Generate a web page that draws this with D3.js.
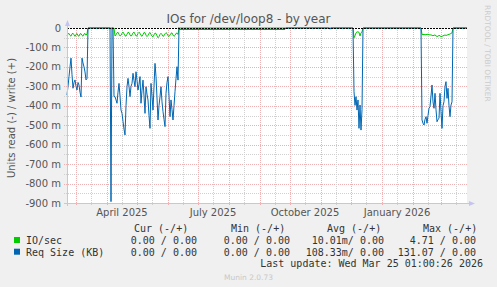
<!DOCTYPE html>
<html>
<head>
<meta charset="utf-8">
<script src="https://cdn.jsdelivr.net/npm/d3@7"></script>
<style>
  html, body { margin: 0; padding: 0; background: #f0f0f0; }
  svg { display: block; }
  text { font-family: "DejaVu Sans", sans-serif; }
  .mono { font-family: "DejaVu Sans Mono", monospace; font-size: 10px; fill: #333; }
</style>
</head>
<body>
<div id="chart"></div>
<script>
// values in milli-units (shown as "m" on the axis), one value per day from the start date
const reqSeg1Start = "2025-02-20";
const reqSeg1 = [-345, -300, -250, -200, -155, -240, -310, -280, -267, -300, -319, -280, -293,
  -330, -355, -155, -180, -200, -226, -267, -260];
const reqSpikeStart = "2025-04-05";
const reqSpike = [-893];
const reqSeg2Start = "2025-04-08";
const reqSeg2 = [-353, -353, -370, -387, -330, -285, -350, -422, -439, -480, -520, -550, -400,
  -302, -259, -300, -353, -300, -285, -233, -270, -302, -225, -270, -319, -290, -250, -387,
  -320, -268, -350, -439, -302, -340, -370, -450, -516, -285, -350, -422, -300, -182, -250,
  -360, -473, -400, -353, -302, -380, -430, -470, -507, -336, -280, -250, -350, -456, -370,
  -420, -473, -400, -327, -260, -199, -268];
const reqLowStart = "2025-06-12";
const reqLow = [-7, -7];
const reqLowEnd = "2025-09-26";
const reqBlipStart = "2025-11-10";
const reqBlip = [-6];
const reqSeg3Start = "2025-12-04";
const reqSeg3 = [-327, -398, -353, -422, -370, -516, -396, -525, -420];
const reqSeg4Start = "2026-02-10";
const reqSeg4 = [-473, -490, -499, -470, -456, -490, -450, -413, -404, -350, -293, -380, -413,
  -336, -420, -482, -470, -465, -336, -430, -516, -400, -379, -300, -276, -362, -310, -400,
  -456, -396, -380];

const ioSeg1Start = "2025-02-20";
const ioSeg1 = [-40, -30, -28, -38, -42, -30, -27, -35, -43, -33, -28, -40, -42, -30, -29,
  -38, -42, -31, -28, -37, -30];
const ioSeg2Start = "2025-04-09";
const ioSeg2 = [-41, -35, -25, -22, -33, -41, -38, -27, -21, -30, -40, -42, -32, -22, -24,
  -36, -42, -36, -25, -21, -31, -41, -40, -28, -22, -27, -38, -43, -34, -23, -25, -37, -44,
  -38, -27, -23, -33, -42, -45, -35, -26, -28, -40, -50, -44, -33, -27, -34, -43, -40, -30,
  -24, -29, -40, -44, -36, -27, -25, -36, -43, -38, -28, -26, -33];
const ioSeg3Start = "2025-12-04";
const ioSeg3 = [-50, -40, -25, -20, -20, -22, -41, -25, -20];
const ioSeg4Start = "2026-02-10";
const ioSeg4 = [-33, -34, -33, -35, -34, -33, -32, -34, -36, -35, -38, -40, -37, -36, -40,
  -44, -42, -38, -40, -45, -43, -40, -38, -36, -38, -37, -34, -33, -31, -28, -25];

const yTicks = [0, -100, -200, -300, -400, -500, -600, -700, -800, -900];
const monthLabels = ["2025-04-01", "2025-07-01", "2025-10-01", "2026-01-01"];

const legendHeaders = ["Cur (-/+)", "Min (-/+)", "Avg (-/+)", "Max (-/+)"];
const legendNames = ["IO/sec", "Req Size (KB)"];
const legendColors = ["#00cc00", "#0066b3"];
const legendValues = [
  ["0.00 / 0.00", "0.00 / 0.00", "10.01m/ 0.00", "4.71 / 0.00"],
  ["0.00 / 0.00", "0.00 / 0.00", "108.33m/ 0.00", "131.07 / 0.00"]
];

const width = 497, height = 287;
const parse = d3.utcParse("%Y-%m-%d");
const plotLeft = 67, plotRight = 467, plotTop = 28, plotBottom = 203;

const x = d3.scaleUtc()
    .domain([parse("2025-02-20"), parse("2026-03-27")])
    .range([plotLeft, plotRight]);
const y = d3.scaleLinear()
    .domain([-900, 0])
    .range([plotBottom, plotTop]);

// turn a start date + daily values into points, with zero points on both sides
function segment(start, values) {
  const t0 = parse(start);
  const pts = values.map((v, i) => [d3.utcDay.offset(t0, i), v]);
  return [[d3.utcDay.offset(t0, -1), 0], ...pts,
          [d3.utcDay.offset(pts[pts.length - 1][0], 1), 0]];
}
function lowSegment(start, end, values) {
  return [[d3.utcDay.offset(parse(start), -1), 0], [parse(start), values[0]],
          [parse(end), values[1]], [d3.utcDay.offset(parse(end), 1), 0]];
}

const domain = x.domain();
const reqPoints = [[domain[0], reqSeg1[0]]]
  .concat(segment(reqSeg1Start, reqSeg1).slice(1),
          segment(reqSpikeStart, reqSpike),
          segment(reqSeg2Start, reqSeg2),
          lowSegment(reqLowStart, reqLowEnd, reqLow),
          segment(reqBlipStart, reqBlip),
          segment(reqSeg3Start, reqSeg3),
          segment(reqSeg4Start, reqSeg4),
          [[domain[1], 0]]);
const ioPoints = [[domain[0], ioSeg1[0]]]
  .concat(segment(ioSeg1Start, ioSeg1).slice(1),
          segment(ioSeg2Start, ioSeg2),
          segment(ioSeg3Start, ioSeg3),
          segment(ioSeg4Start, ioSeg4),
          [[domain[1], 0]]);

const svg = d3.select("#chart")
  .append("svg")
    .attr("width", width)
    .attr("height", height);

svg.append("rect")
    .attr("width", width).attr("height", height).attr("fill", "#f0f0f0");

// plot area
svg.append("rect")
    .attr("x", plotLeft).attr("y", plotTop)
    .attr("width", plotRight - plotLeft).attr("height", plotBottom - plotTop)
    .attr("fill", "#ffffff");

// grid
const grid = svg.append("g");
const minorY = d3.range(-850, 0, 100);
grid.selectAll(".hmin").data(minorY).enter().append("line")
    .attr("x1", plotLeft - 3).attr("x2", plotRight)
    .attr("y1", d => Math.round(y(d)) + 0.5).attr("y2", d => Math.round(y(d)) + 0.5)
    .attr("stroke", "#d0d0d0").attr("stroke-dasharray", "1,1");
grid.selectAll(".hmaj").data(yTicks.slice(1)).enter().append("line")
    .attr("x1", plotLeft - 3).attr("x2", plotRight)
    .attr("y1", d => Math.round(y(d)) + 0.5).attr("y2", d => Math.round(y(d)) + 0.5)
    .attr("stroke", "#eeb0b0").attr("stroke-dasharray", "1,1");

const monthStarts = d3.utcMonth.range(domain[0], domain[1]);
const midMonths = monthStarts.map(d => d3.utcDay.offset(d, 15))
    .concat([d3.utcDay.offset(d3.utcMonth.floor(domain[0]), 15)])
    .filter(d => d > domain[0] && d < domain[1]);
grid.selectAll(".vmin").data(midMonths).enter().append("line")
    .attr("x1", d => Math.round(x(d)) + 0.5).attr("x2", d => Math.round(x(d)) + 0.5)
    .attr("y1", plotTop).attr("y2", plotBottom + 3)
    .attr("stroke", "#d0d0d0").attr("stroke-dasharray", "1,1");
grid.selectAll(".vmaj").data(monthStarts).enter().append("line")
    .attr("x1", d => Math.round(x(d)) + 0.5).attr("x2", d => Math.round(x(d)) + 0.5)
    .attr("y1", plotTop).attr("y2", plotBottom + 3)
    .attr("stroke", "#eeb0b0").attr("stroke-dasharray", "1,1");

// series
const line = d3.line()
    .x(d => x(d[0]))
    .y(d => y(d[1]));

svg.append("path")
    .datum(ioPoints)
    .attr("fill", "none")
    .attr("stroke", "#00cc00")
    .attr("stroke-width", 1)
    .attr("d", line);

svg.append("path")
    .datum(reqPoints)
    .attr("fill", "none")
    .attr("stroke", "#0066b3")
    .attr("stroke-width", 1)
    .attr("d", line);

// zero line
svg.append("line")
    .attr("x1", plotLeft).attr("x2", plotRight)
    .attr("y1", y(0) + 0.5).attr("y2", y(0) + 0.5)
    .attr("stroke", "#000").attr("stroke-dasharray", "2,1");

// axes
const axisColor = "#c4c4f4";
svg.append("line")
    .attr("x1", plotLeft + 0.5).attr("x2", plotLeft + 0.5)
    .attr("y1", plotBottom + 3).attr("y2", plotTop - 4)
    .attr("stroke", axisColor);
svg.append("path")
    .attr("d", `M${plotLeft - 2},${plotTop - 2} L${plotLeft + 3},${plotTop - 2} L${plotLeft + 0.5},${plotTop - 8} Z`)
    .attr("fill", axisColor);
svg.append("line")
    .attr("x1", plotLeft - 3).attr("x2", plotRight + 4)
    .attr("y1", plotBottom + 0.5).attr("y2", plotBottom + 0.5)
    .attr("stroke", axisColor);
svg.append("path")
    .attr("d", `M${plotRight + 2},${plotBottom - 2} L${plotRight + 2},${plotBottom + 3} L${plotRight + 8},${plotBottom + 0.5} Z`)
    .attr("fill", axisColor);

// y labels
svg.append("g").selectAll("text").data(yTicks).enter().append("text")
    .attr("x", 61)
    .attr("y", d => y(d) + 3.5)
    .attr("text-anchor", "end")
    .attr("font-size", 10)
    .attr("fill", "#555")
    .text(d => d === 0 ? "0" : d + " m");

// x labels (centered mid-month)
svg.append("g").selectAll("text").data(monthLabels).enter().append("text")
    .attr("x", d => x(d3.utcDay.offset(parse(d), 15)))
    .attr("y", 216)
    .attr("text-anchor", "middle")
    .attr("font-size", 10)
    .attr("fill", "#555")
    .text(d => d3.utcFormat("%B %Y")(parse(d)));

// title
svg.append("text")
    .attr("x", width / 2).attr("y", 23)
    .attr("text-anchor", "middle")
    .attr("font-size", 12)
    .attr("fill", "#555")
    .text("IOs for /dev/loop8 - by year");

// y axis title
svg.append("text")
    .attr("transform", "translate(15,118) rotate(-90)")
    .attr("text-anchor", "middle")
    .attr("font-size", 10)
    .attr("fill", "#555")
    .text("Units read (-) / write (+)");

// watermark
svg.append("text")
    .attr("transform", "translate(485,5) rotate(90)")
    .attr("text-anchor", "start")
    .attr("font-size", 7.5)
    .attr("fill", "#cccccc")
    .text("RRDTOOL / TOBI OETIKER");

// legend
const colEnds = [197, 290, 384, 476];
const headerStarts = [134, 231, 327, 423];
svg.append("g").selectAll("text").data(legendHeaders).enter().append("text")
    .attr("class", "mono")
    .attr("x", (d, i) => headerStarts[i]).attr("y", 232)
    .text(d => d);

const rows = svg.append("g").selectAll("g").data(legendNames).enter().append("g")
    .attr("transform", (d, i) => `translate(0,${244 + i * 11.7})`);
rows.append("rect")
    .attr("x", 14).attr("y", -7)
    .attr("width", 6).attr("height", 6)
    .attr("fill", (d, i) => legendColors[i]);
rows.append("text")
    .attr("class", "mono")
    .attr("x", 26).attr("y", 0)
    .text(d => d);
rows.each(function(d, i) {
  d3.select(this).selectAll(".val").data(legendValues[i]).enter().append("text")
      .attr("class", "mono")
      .attr("x", (v, j) => colEnds[j]).attr("y", 0)
      .attr("text-anchor", "end")
      .text(v => v);
});

svg.append("text")
    .attr("class", "mono")
    .attr("x", 483).attr("y", 267)
    .attr("text-anchor", "end")
    .text("Last update: Wed Mar 25 01:00:26 2026");

svg.append("text")
    .attr("x", width / 2).attr("y", 280)
    .attr("text-anchor", "middle")
    .attr("font-size", 7.5)
    .attr("fill", "#c8c8c8")
    .text("Munin 2.0.73");
</script>
</body>
</html>
